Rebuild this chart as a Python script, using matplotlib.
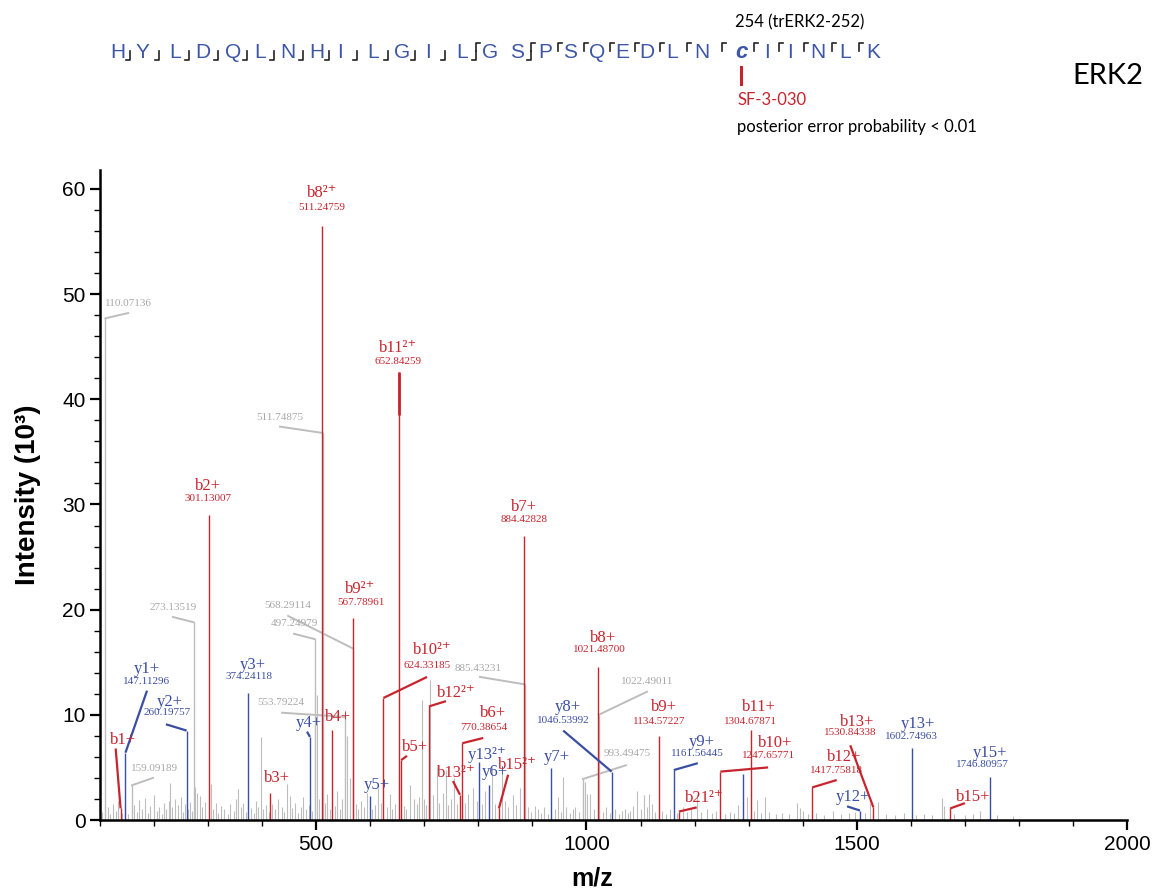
import matplotlib
matplotlib.use("Agg")
import matplotlib.pyplot as plt
from matplotlib.ticker import MultipleLocator

W, H = 1158, 894
RED, BLUE = "#c8242d", "#3a4ea2"
GREY, GREY_TXT = "#bdbdbd", "#a8a8a8"
SEQ_BLUE = "#3d56a6"
SERIF = ["Liberation Serif", "DejaVu Serif"]
SANS = ["Liberation Sans", "DejaVu Sans"]
HDR = ["Lato", "DejaVu Sans"]

# ---- annotated fragment ions ----
ion_name = ["b1+", "y1+", "y2+", "b2+", "y3+", "b3+", "y4+", "b8²⁺", "b4+", "b9²⁺",
            "y5+", "b10²⁺", "b11²⁺", "b5+", "b12²⁺", "b13²⁺", "b6+", "y13²⁺", "y6+", "b15²⁺",
            "b7+", "y7+", "b8+", "y8+", "b9+", "y9+", "b21²⁺", "b10+", "b11+", "b12+",
            "y12+", "b13+", "y13+", "b15+", "y15+"]
ion_mz = [138.07, 147.11, 260.20, 301.13, 374.24, 414.5, 488.5, 511.25, 529.0, 567.79,
          600.0, 624.33, 652.84, 657.3, 708.7, 766.0, 770.39, 801.0, 819.6, 838.0,
          884.43, 934.0, 1021.49, 1046.54, 1134.57, 1161.56, 1171.0, 1247.66, 1304.68, 1417.76,
          1506.0, 1530.84, 1602.75, 1673.0, 1746.81]
ion_int = [1.1, 6.4, 8.5, 29.0, 12.1, 2.6, 7.9, 56.5, 8.6, 19.2,
           2.3, 11.6, 42.6, 5.7, 10.8, 2.4, 7.3, 5.5, 3.3, 1.1,
           27.0, 4.9, 14.5, 4.6, 8.0, 4.75, 0.8, 4.6, 8.6, 3.1,
           0.9, 1.2, 6.8, 1.1, 4.1]
ion_value = ["", "147.11296", "260.19757", "301.13007", "374.24118", "", "", "511.24759", "", "567.78961",
             "", "624.33185", "652.84259", "", "", "", "770.38654", "", "", "",
             "884.42828", "", "1021.48700", "1046.53992", "1134.57227", "1161.56445", "", "1247.65771", "1304.67871", "1417.75818",
             "", "1530.84338", "1602.74963", "", "1746.80957"]

# label layout in data units (m/z, intensity)
name_pos = [(142, 7.6), (187, 14.4), (229, 11.2), (300, 31.8), (383, 14.7), (427, 4.0), (487, 9.2), (511, 59.6), (540, 9.8), (582, 22.0),
            (612, 3.3), (714, 16.2), (651, 44.9), (683, 6.9), (759, 12.1), (759, 4.5), (827, 10.2), (816, 6.2), (831, 4.6), (873, 5.2),
            (884, 29.8), (945, 6.0), (1030, 17.3), (966, 10.7), (1143, 10.7), (1214, 7.4), (1219, 2.1), (1349, 7.3), (1319, 10.7), (1476, 6.0),
            (1493, 2.2), (1500, 9.3), (1613, 9.1), (1715, 2.2), (1746, 6.4)]
value_pos = [None, (187, 13.2), (224, 10.2), (300, 30.6), (376, 13.6), None, None, (511, 58.2), None, (582, 20.7),
             None, (705, 14.7), (651, 43.6), None, None, None, (810, 8.8), None, None, None,
             (884, 28.6), None, (1023, 16.2), (957, 9.5), (1134, 9.4), (1206, 6.3), None, (1336, 6.1), (1304, 9.4), (1463, 4.75),
             None, (1488, 8.3), (1602, 7.9), None, (1733, 5.3)]
leader_end = [(129, 6.8), (187, 12.3), (222, 9.1), None, None, None, (483, 8.4), None, None, None,
              None, (705, 13.6), None, (668, 6.1), (740, 11.3), (753, 3.7), (809, 7.8), None, None, (855, 4.3),
              None, None, None, (957, 8.5), None, (1206, 5.4), (1204, 1.2), (1336, 5.0), None, (1463, 3.8),
              (1482, 1.3), (1488, 7.1), None, (1700, 1.6), None]

# other matched peak without label
extra_blue_mz = [1290.0]
extra_blue_int = [4.4]

# ---- labelled unassigned peaks (grey) ----
grey_lab_mz = [110.07136, 159.09189, 273.13519, 497.24979, 511.74875, 553.79224, 568.29114, 885.43231, 993.49475, 1022.49011]
grey_lab_int = [47.7, 3.3, 18.8, 17.2, 36.8, 9.8, 16.3, 12.9, 3.9, 10.0]
grey_lab_pos = [(152, 49.1), (200, 4.9), (235, 20.2), (459, 18.7), (433, 38.3), (435, 11.2), (448, 20.4), (800, 14.4), (1075, 6.3), (1112, 13.2)]
grey_lab_end = [(152, 48.2), (198, 4.0), (235, 19.3), (459, 17.7), (433, 37.4), (437, 10.2), (448, 19.4), (803, 13.6), (1073, 5.2), (1112, 12.2)]

# ---- unassigned peaks (m/z, intensity) ----
noise = [(104, 0.8), (115, 1.2), (119, 0.6), (124, 1.5), (129, 0.9), (133, 1.8), (141, 0.7), (146, 1.1), (152, 0.6),
         (163, 1.4), (168, 0.8), (173, 1.9), (178, 1.0), (183, 2.1), (188, 0.7), (193, 1.3), (200, 2.4), (205, 0.9),
         (210, 1.2), (214, 0.6), (219, 1.6), (223, 1.0), (227, 1.8), (229.5, 3.5), (234, 1.2), (239, 2.0), (244, 1.4),
         (249, 2.2), (253, 0.8), (257, 1.5), (262, 1.0), (266, 1.7), (270, 0.9), (276, 3.1), (280, 2.6), (285, 2.3),
         (289, 1.2), (294, 1.7), (305, 3.4), (309, 1.0), (314, 1.6), (319, 0.7), (324, 1.3), (330, 1.0), (336, 0.6),
         (341, 1.5), (347, 0.9), (352, 2.0), (356, 2.9), (360, 1.2), (365, 1.6), (370, 0.8), (379, 1.1), (384, 0.7),
         (389, 1.8), (393, 1.2), (397, 7.9), (402, 1.0), (408, 1.4), (413, 0.8), (419, 1.5), (424, 1.0), (430, 2.0),
         (436, 1.2), (441, 0.8), (446, 3.4), (451, 2.3), (456, 1.1), (461, 1.6), (466, 0.7), (471, 1.2), (476, 2.2),
         (481, 1.0), (486, 1.4), (492, 0.9), (501, 11.9), (505, 2.0), (516, 1.6), (520, 2.5), (525, 1.0), (534, 1.3),
         (538, 2.8), (544, 1.0), (548, 2.0), (557, 8.0), (562, 4.0), (573, 1.5), (578, 1.0), (583, 1.8), (589, 1.2),
         (594, 2.6), (604, 1.0), (609, 1.4), (614, 3.0), (619, 1.6), (631, 1.2), (636, 2.5), (641, 1.0), (646, 1.5),
         (662, 1.3), (667, 1.0), (673, 3.3), (680, 2.0), (686, 1.5), (690, 2.2), (695, 11.4), (700, 2.0), (704, 1.4),
         (710, 13.3), (716, 2.4), (723, 5.1), (727, 1.6), (735, 2.6), (740, 4.8), (744, 1.4), (749, 2.0), (755, 4.0),
         (760, 1.5), (776, 1.6), (781, 2.5), (790, 3.0), (797, 1.8), (806, 1.5), (812, 2.8), (826, 5.0), (831, 1.5),
         (844, 4.5), (849, 1.8), (855, 1.2), (864, 2.4), (870, 1.4), (877, 3.0), (892, 1.2), (898, 0.8), (904, 1.3),
         (911, 1.0), (916, 0.7), (922, 1.2), (928, 0.6), (941, 1.0), (947, 2.2), (952, 0.8), (957, 4.1), (962, 1.2),
         (970, 0.7), (975, 1.0), (979, 1.2), (986, 0.8), (997, 3.6), (1001, 2.5), (1006, 2.5), (1013, 1.0), (1030, 0.8),
         (1037, 1.2), (1044, 0.7), (1052, 1.0), (1060, 0.6), (1066, 0.9), (1071, 1.0), (1076, 0.7), (1081, 0.9),
         (1087, 1.3), (1093, 2.8), (1100, 1.0), (1107, 2.4), (1112, 1.2), (1116, 2.5), (1121, 1.5), (1127, 0.8),
         (1140, 0.9), (1147, 0.6), (1155, 1.0), (1168, 0.7), (1178, 1.2), (1186, 0.8), (1194, 1.0), (1204, 2.5),
         (1212, 0.8), (1223, 1.0), (1232, 0.7), (1240, 0.9), (1256, 0.6), (1265, 0.8), (1273, 0.7), (1280, 1.4),
         (1297, 2.2), (1310, 0.9), (1315, 1.9), (1322, 0.7), (1330, 2.2), (1338, 0.8), (1350, 0.6), (1362, 0.7),
         (1375, 0.6), (1389, 1.6), (1395, 1.1), (1401, 0.9), (1410, 0.6), (1425, 0.7), (1440, 0.5), (1456, 0.9),
         (1470, 0.6), (1485, 0.7), (1497, 0.8), (1515, 0.7), (1525, 1.6), (1540, 1.7), (1555, 0.6), (1570, 0.5),
         (1588, 0.7), (1610, 0.5), (1625, 0.6), (1640, 0.5), (1658, 2.1), (1661, 1.3), (1680, 0.6), (1700, 0.5),
         (1715, 0.6), (1728, 0.9), (1760, 0.5), (1790, 0.4)]

# ---- peptide header ----
sequence = list("HYLDQLNHILGILGSPSQEDLNcIINLK")
# fragment marks between residues: b = N-terminal ion, y = C-terminal ion, by = both
gap_marks = ["b"] * 12 + ["by", "", "by"] + ["y"] * 12
seq_x = [118, 142, 175, 203, 233, 260, 288, 317, 340, 373, 402, 428, 462, 490,
         517, 545, 570, 597, 622, 647, 672, 702, 741, 767, 790, 818, 845, 873]


def ion_color(name):
    return RED if name.startswith("b") else BLUE


def draw_spectrum(ax):
    nmz = [p[0] for p in noise]; nint = [p[1] for p in noise]
    ax.vlines(nmz, 0, nint, color=GREY, lw=0.8, zorder=1)
    ax.vlines(grey_lab_mz, 0, grey_lab_int, color=GREY, lw=1.0, zorder=1)
    for mz, it, (tx, ty), (ex, ey) in zip(grey_lab_mz, grey_lab_int, grey_lab_pos, grey_lab_end):
        ax.plot([mz, ex], [it, ey], color=GREY, lw=1.4, zorder=1)
        ax.text(tx, ty, f"{mz:.5f}", color=GREY_TXT, fontsize=8, family=SERIF, ha="center", va="center", zorder=4)

    ax.vlines(extra_blue_mz, 0, extra_blue_int, color=BLUE, lw=1.0, zorder=2)
    for name, mz, it, val, npos, vpos, lend in zip(ion_name, ion_mz, ion_int, ion_value, name_pos, value_pos, leader_end):
        c = ion_color(name)
        ax.vlines(mz, 0, it, color=c, lw=1.0, zorder=2)
        if lend:
            ax.plot([mz, lend[0]], [it, lend[1]], color=c, lw=1.6, zorder=3, solid_capstyle="butt")
        ax.text(*npos, name, color=c, fontsize=12, family=SERIF, ha="center", va="center", zorder=4)
        if vpos:
            ax.text(*vpos, val, color=c, fontsize=8, family=SERIF, ha="center", va="center", zorder=4)
    # overlapping b11 2+ isotope cluster drawn heavier
    i = ion_name.index("b11²⁺")
    ax.vlines(ion_mz[i], 38.5, ion_int[i], color=RED, lw=2.0, zorder=2)


def style_axes(ax):
    ax.set_xlim(100, 2000); ax.set_ylim(0, 61.8)
    for s in ["top", "right"]:
        ax.spines[s].set_visible(False)
    for s in ["left", "bottom"]:
        ax.spines[s].set_linewidth(1.8)
    ax.xaxis.set_major_locator(MultipleLocator(500)); ax.xaxis.set_minor_locator(MultipleLocator(100))
    ax.yaxis.set_major_locator(MultipleLocator(10)); ax.yaxis.set_minor_locator(MultipleLocator(2))
    ax.tick_params(which="major", direction="out", length=7, width=1.6, labelsize=15)
    ax.tick_params(which="minor", direction="out", length=4, width=1.0)
    for lab in ax.get_xticklabels() + ax.get_yticklabels():
        lab.set_family(SANS)
    ax.patch.set_alpha(0)


def draw_header(fig):
    hdr = fig.add_axes([0, 0, 1, 1], zorder=-1)
    hdr.set_xlim(0, W); hdr.set_ylim(H, 0); hdr.axis("off")
    top, mid, base = 43, 51, 60
    for ch, x in zip(sequence, seq_x):
        if ch == "c":
            hdr.text(x, 53, ch, color=SEQ_BLUE, fontsize=16, family=SANS, weight="bold", style="italic",
                     ha="center", va="center")
        else:
            hdr.text(x, 52, ch, color=SEQ_BLUE, fontsize=15, family=SANS, ha="center", va="center")
    for (x0, x1), m in zip(zip(seq_x[:-1], seq_x[1:]), gap_marks):
        xm = (x0 + x1) / 2
        if "b" in m:
            hdr.plot([xm, xm, xm - 4], [mid, base, base], color="#222222", lw=1.2)
        if "y" in m:
            hdr.plot([xm, xm, xm + 4], [mid, top, top], color="#222222", lw=1.2)
    hdr.plot([741, 741], [67, 84], color=RED, lw=2.2)
    hdr.text(735, 22, "254 (trERK2-252)", fontsize=12, family=HDR, ha="left", va="center")
    hdr.text(737, 100, "SF-3-030", color=RED, fontsize=12, family=HDR, ha="left", va="center")
    hdr.text(737, 127, "posterior error probability < 0.01", fontsize=12, family=HDR, ha="left", va="center")
    hdr.text(1108, 76, "ERK2", fontsize=21, family=HDR, ha="center", va="center")


if __name__ == "__main__":
    fig = plt.figure(figsize=(W / 100, H / 100), dpi=100)
    draw_header(fig)
    ax = fig.add_axes([100 / W, 1 - 820 / H, 1027 / W, 650 / H])
    draw_spectrum(ax)
    style_axes(ax)
    fig.text(28 / W, 1 - 495 / H, "Intensity (10³)", rotation=90, fontsize=20, weight="bold",
             family=SANS, ha="center", va="center")
    fig.text(592 / W, 1 - 878 / H, "m/z", fontsize=18, weight="bold", family=SANS, ha="center", va="center")
    fig.savefig("out.png", dpi=100)
